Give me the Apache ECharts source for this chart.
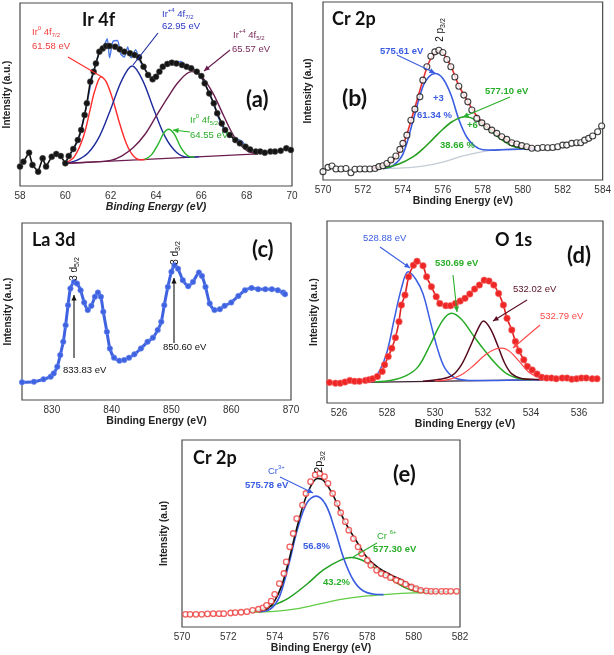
<!DOCTYPE html>
<html><head><meta charset="utf-8">
<script src="https://cdn.jsdelivr.net/npm/echarts@6/dist/echarts.min.js"></script>
<style>html,body{margin:0;padding:0;background:#fff}#c{width:614px;height:655px}</style>
</head><body><div id="c"></div>
<script>
// ---------- Panel (a) Ir 4f ----------
const aTicks = [58,60,62,64,66,68,70];
const aData = [[58.0,10.6],[58.15,13.3],[58.4,18.2],[58.55,11.5],[58.8,7.8],[59.0,15.1],[59.15,10.6],[59.4,16.0],[59.6,17.5],[59.8,16.4],[60.0,12.4],[60.15,16.4],[60.35,20.2],[60.55,25.1],[60.7,30.6],[60.85,38.8],[60.95,45.2],[61.1,57.0],[61.25,62.5],[61.35,67.0],[61.5,73.4],[61.65,75.2],[61.8,76.5],[61.95,76.5],[62.2,76.1],[62.4,74.7],[62.6,73.4],[62.85,72.5],[63.05,71.6],[63.25,70.3],[63.45,65.2],[63.65,60.7],[63.85,58.3],[64.0,59.7],[64.15,62.5],[64.3,65.2],[64.5,66.7],[64.7,67.4],[64.9,67.0],[65.15,66.1],[65.35,65.2],[65.55,64.3],[65.8,62.5],[66.0,60.1],[66.15,56.1],[66.35,50.6],[66.55,45.2],[66.7,39.7],[66.9,34.2],[67.05,30.6],[67.25,27.9],[67.5,25.1],[67.7,23.3],[67.95,21.5],[68.15,20.0],[68.4,18.8],[68.6,18.8],[68.8,18.2],[69.05,18.8],[69.25,18.8],[69.5,19.3],[69.75,20.6],[69.95,19.7]];
const aRaw = [[60.0,12.8],[60.3,19],[60.6,26],[60.9,42],[61.2,60],[61.5,73],[61.75,78],[61.85,80.5],[61.95,70],[62.1,79],[62.3,79.5],[62.45,72],[62.6,70.5],[62.75,76],[62.9,70],[63.1,74.5],[63.3,68],[63.5,64],[63.7,60],[63.9,58],[64.1,61],[64.3,65],[64.5,67.5],[64.7,68.5],[64.9,67.5],[65.1,68],[65.3,66],[65.6,64.5],[65.9,61],[66.2,55],[66.5,46],[66.8,36],[67.0,31],[67.3,27],[67.6,25.5],[67.8,24.5],[68.0,21],[68.3,19],[68.6,18.5],[69.0,18.5],[69.5,19.5],[70.0,20]];
const aIr0a = [[60.0,12.4],[60.4,16],[60.8,27],[61.1,42],[61.3,52],[61.58,59.7],[61.8,57],[62.1,47],[62.4,34],[62.7,23],[63.0,16.5],[63.3,14.3],[63.6,14.6]];
const aIr4a = [[60.0,12.4],[60.5,14],[61.0,18],[61.5,27],[62.0,42],[62.5,58],[62.95,65.6],[63.4,58],[63.9,42],[64.4,27],[64.9,18.5],[65.4,15.8],[65.9,15.9]];
const aIr4b = [[60.0,12.4],[61.0,13],[62.0,14],[62.5,16.5],[63.0,21],[63.5,28],[64.0,38],[64.5,48],[65.0,57],[65.57,62.5],[66.0,60],[66.5,51],[67.0,38],[67.5,26],[68.0,19.5],[68.5,17.5]];
const aIr0b = [[63.5,14.5],[63.8,17],[64.1,23],[64.35,29],[64.55,31],[64.8,28.5],[65.1,21],[65.4,16.5],[65.7,15.7]];
const aBase = [[60.0,12.4],[68.5,17.5]];

// ---------- Panel (b) Cr 2p ----------
const bTicks = [570,572,574,576,578,580,582,584];
const bData = [[570.0,4.7],[570.25,7.1],[570.45,7.9],[570.65,6.2],[570.9,6.2],[571.15,6.5],[571.4,4.1],[571.6,6.0],[571.85,6.2],[572.1,6.2],[572.35,6.2],[572.6,6.5],[572.8,7.5],[573.0,8.0],[573.2,9.3],[573.4,11.2],[573.65,13.5],[573.85,17.2],[574.0,20.6],[574.2,25.2],[574.4,33.6],[574.6,39.8],[574.85,46.7],[575.0,56.1],[575.2,63.6],[575.4,69.5],[575.6,72.0],[575.8,72.9],[576.0,71.6],[576.2,67.7],[576.4,63.6],[576.6,57.9],[576.8,52.7],[577.05,47.7],[577.25,43.9],[577.45,39.3],[577.7,34.6],[577.95,32.1],[578.2,29.9],[578.45,28.0],[578.7,26.2],[578.95,24.3],[579.2,22.8],[579.45,20.9],[579.7,20.2],[579.95,19.3],[580.2,18.7],[580.45,17.8],[580.75,17.8],[581.0,18.3],[581.25,18.1],[581.5,18.3],[581.75,18.7],[582.0,19.6],[582.2,19.6],[582.45,20.6],[582.7,20.9],[582.9,20.9],[583.1,22.4],[583.3,23.4],[583.5,24.7],[583.75,27.1],[583.95,30.3]];
const bEnv = [[572.5,6.6],[573.0,7.8],[573.5,11],[574.0,19.5],[574.5,37],[575.0,56],[575.3,66],[575.6,71.5],[575.8,72.5],[576.0,71.5],[576.4,64],[576.8,53],[577.2,45],[577.6,37.5],[578.0,32],[578.5,28],[579.0,24],[579.5,21],[580.0,19],[580.5,18]];
const bCr3 = [[573.0,6.5],[573.5,8],[574.0,14.5],[574.5,33],[575.0,52.5],[575.3,58],[575.61,59.8],[576.0,57],[576.4,48],[576.8,34],[577.2,24],[577.6,19],[578.0,17],[578.5,16.8],[579.0,17],[580.0,17.4],[580.6,17.6]];
const bCr6 = [[573.0,6.5],[573.8,9],[574.5,13],[575.0,17.5],[575.5,23],[576.0,28.5],[576.5,33],[577.1,35.5],[577.7,33.5],[578.3,28.5],[578.9,23],[579.5,19],[580.2,17.6]];
const bBase = [[573.0,6.5],[574.0,6.8],[575.0,7.8],[576.0,10],[577.0,13.5],[578.0,16],[578.5,16.8],[579.0,17.2],[580.0,17.5],[580.6,17.6]];

// ---------- Panel (c) La 3d ----------
const cTicks = [830,840,850,860,870];
const cData = [[825,10.0],[827,10.3],[828.6,11.7],[829.8,13.2],[830.3,15.0],[830.9,18.8],[831.4,25.4],[831.9,32.9],[832.3,42.3],[832.7,53.6],[833.1,63.0],[833.7,66.7],[834.2,65.8],[834.8,62.0],[835.4,55.1],[836.0,50.8],[836.6,53.2],[837.2,58.3],[837.7,60.7],[838.2,58.3],[838.6,49.8],[839.2,38.5],[839.7,29.1],[840.4,23.9],[841.3,22.2],[842.1,22.6],[842.9,23.9],[843.8,25.8],[844.9,29.1],[846.0,32.9],[846.9,35.2],[847.7,39.5],[848.3,44.2],[848.8,53.6],[849.4,63.9],[850.0,72.4],[850.5,76.1],[851.1,74.2],[851.9,67.7],[852.8,64.3],[853.6,66.7],[854.6,72.0],[855.1,70.1],[855.7,63.9],[856.4,54.5],[857.2,50.8],[858.1,51.3],[858.9,53.2],[860.0,55.1],[861.2,58.8],[862.3,62.0],[863.4,63.3],[864.5,62.6],[865.7,62.6],[866.8,62.6],[867.8,62.0],[868.7,60.7],[869.0,59.8]];

// ---------- Panel (d) O 1s ----------
const dTicks = [526,528,530,532,534,536];
const dData = [[525.6,11.3],[525.85,10.9],[526.05,10.9],[526.25,11.5],[526.45,12.4],[526.65,11.9],[526.85,11.9],[527.1,12.4],[527.25,12.8],[527.4,13.3],[527.6,14.6],[527.8,17.3],[527.9,21.0],[528.05,25.5],[528.2,30.1],[528.35,35.9],[528.5,44.7],[528.6,53.8],[528.75,59.3],[528.9,69.3],[529.1,75.7],[529.25,77.9],[529.5,75.4],[529.65,69.3],[529.85,63.9],[530.05,58.4],[530.2,54.7],[530.45,53.5],[530.65,53.5],[530.85,54.7],[531.05,56.0],[531.25,57.5],[531.45,59.9],[531.65,62.6],[531.85,64.8],[532.05,67.5],[532.25,67.0],[532.45,64.8],[532.65,60.2],[532.85,53.8],[533.0,46.5],[533.2,40.1],[533.35,33.8],[533.5,28.6],[533.7,23.7],[533.85,20.1],[534.05,18.2],[534.25,15.9],[534.45,14.1],[534.65,13.7],[534.85,13.7],[535.05,13.3],[535.3,13.7],[535.5,13.7],[535.7,13.1],[535.9,13.3],[536.1,13.7],[536.3,13.7],[536.55,13.3],[536.75,13.3]];
const dOa = [[527.0,11.5],[527.4,13],[527.7,18],[528.0,28],[528.3,46],[528.6,63],[528.88,72.1],[529.2,68],[529.5,60],[529.8,45],[530.1,30],[530.4,19.5],[530.8,14],[531.3,12.5],[532.0,12.3],[533.0,12.5],[534.5,12.8]];
const dOb = [[527.5,11.6],[528.2,12.5],[528.8,15],[529.3,20],[529.8,32],[530.3,45],[530.69,49.3],[531.1,46],[531.6,37],[532.0,30],[532.5,22],[533.0,16],[533.5,13.5],[534.0,12.8]];
const dOc = [[529.5,12],[530.2,13],[530.7,15],[531.1,21],[531.5,32],[531.8,41],[532.02,45.1],[532.3,41],[532.6,32],[532.9,22],[533.2,16],[533.6,13.5],[534.2,12.9],[534.5,12.8]];
const dOd = [[530.0,12.2],[530.6,13],[531.1,15.5],[531.6,20.5],[532.1,26.5],[532.5,29.5],[532.79,30.1],[533.1,28.5],[533.5,23],[533.9,17],[534.3,14.2],[534.8,13]];
const dBase = [[527.0,11.3],[534.6,12.8]];

// ---------- Panel (e) Cr 2p ----------
const eTicks = [570,572,574,576,578,580,582];
const eData = [[570.15,6.8],[570.35,6.8],[570.6,6.8],[570.85,6.8],[571.1,7.0],[571.35,7.1],[571.6,7.1],[571.8,7.1],[572.1,7.5],[572.3,7.7],[572.55,7.9],[572.8,8.2],[573.05,8.9],[573.3,9.5],[573.5,10.2],[573.65,11.6],[573.85,13.8],[574.0,17.5],[574.2,23.2],[574.4,28.6],[574.5,34.8],[574.65,42.9],[574.8,50.0],[574.95,58.0],[575.2,65.2],[575.35,71.4],[575.55,77.7],[575.75,81.3],[575.95,82.1],[576.15,80.4],[576.3,76.8],[576.5,71.4],[576.7,66.1],[576.85,61.1],[577.05,56.3],[577.2,51.8],[577.4,47.3],[577.6,42.9],[577.75,39.3],[578.0,35.7],[578.15,33.0],[578.4,30.4],[578.6,28.6],[578.8,27.7],[579.0,26.4],[579.25,25.0],[579.45,24.1],[579.65,22.9],[579.9,21.4],[580.1,20.5],[580.3,19.6],[580.55,19.3],[580.75,19.1],[580.95,19.1],[581.2,19.1],[581.4,19.1],[581.6,19.1],[581.85,19.1]];
const eEnv = [[573.3,8.5],[573.7,9.8],[574.0,14],[574.3,22],[574.6,35],[575.0,55],[575.4,71],[575.85,79.5],[576.1,78.5],[576.5,71],[577.0,57],[577.5,46.5],[578.0,37],[578.5,31.5],[579.0,28],[579.5,25],[580.0,21.5],[580.5,19.5],[581.0,19],[581.5,19]];
const eCr3 = [[573.3,8.2],[573.8,9.5],[574.2,16],[574.6,33],[575.0,53],[575.4,66.5],[575.78,70],[576.2,65.5],[576.6,52],[577.0,36],[577.4,25],[577.8,19.5],[578.3,17.5],[578.7,17.3]];
const eCr6 = [[573.0,8],[573.9,11.5],[574.6,15.5],[575.4,23],[576.1,30.5],[576.8,35.5],[577.3,37.1],[577.9,35],[578.5,30],[579.1,25],[579.6,21.2],[580.1,19],[580.8,18.4]];
const eBase = [[573.0,8],[574.0,8.4],[575.0,9.8],[576.0,12.5],[577.0,15],[578.0,16.6],[579.0,17.6],[580.0,18.2],[581.0,18.5],[582.0,18.6]];

const FONT = 'Liberation Sans, Arial, sans-serif';
const TFONT = 'Lato, "Open Sans", sans-serif';

const grids = [
  {left:20, top:3, width:272, height:183},
  {left:323, top:2, width:281, height:178},
  {left:22, top:223, width:269, height:177},
  {left:327, top:221, width:276, height:182},
  {left:182, top:440, width:278, height:187}
].map(g => Object.assign(g, {show:true, borderColor:'#4a4a4a', borderWidth:1.2, backgroundColor:'transparent'}));

function xa(i, min, max, ticks, italic) {
  return {type:'value', gridIndex:i, min, max,
    axisLine:{show:false}, axisTick:{show:false}, splitLine:{show:false},
    axisLabel:{customValues:ticks, color:'#333', fontSize:10, fontFamily:FONT, margin:5},
    name:'Binding Energy (eV)', nameLocation:'middle', nameGap:16,
    nameTextStyle:{fontSize:10.5, fontWeight:'bold', fontStyle: italic?'italic':'normal', color:'#222', fontFamily:FONT}};
}
function ya(i, name, gap) {
  return {type:'value', gridIndex:i, min:0, max:100,
    axisLine:{show:false}, axisTick:{show:false}, splitLine:{show:false}, axisLabel:{show:false},
    name, nameLocation:'middle', nameGap:gap, nameRotate:90,
    nameTextStyle:{fontSize:10, fontWeight:'bold', color:'#222', fontFamily:FONT}};
}
function ln(i, data, color, width, extra) {
  return Object.assign({type:'line', xAxisIndex:i, yAxisIndex:i, data, smooth:0.35, symbol:'none',
    lineStyle:{color, width}, z:2, silent:true}, extra||{});
}

const series = [
  // (a)
  ln(0, aBase, '#6a1d4e', 1.3, {smooth:false}),
  ln(0, aIr0a, '#ff2a2a', 1.4),
  ln(0, aIr4a, '#1c2a9c', 1.4),
  ln(0, aIr4b, '#6a1d4e', 1.4),
  ln(0, aIr0b, '#27b427', 1.4),
  ln(0, aRaw, '#4a78e6', 1.4, {smooth:0.2}),
  {type:'line', xAxisIndex:0, yAxisIndex:0, data:aData, symbol:'circle', symbolSize:6,
    itemStyle:{color:'#151515', borderColor:'#555', borderWidth:0.5}, lineStyle:{color:'#111', width:1.6}, z:5, silent:true},
  // (b)
  ln(1, bBase, '#c4ccd6', 1.3),
  ln(1, bCr3, '#3a5de2', 1.6),
  ln(1, bCr6, '#2a9e22', 1.6),
  ln(1, bEnv, '#e83232', 1.6),
  {type:'scatter', xAxisIndex:1, yAxisIndex:1, data:bData, symbol:'circle', symbolSize:6,
    itemStyle:{color:'#fff', borderColor:'#111', borderWidth:1.1}, z:5, silent:true},
  // (c)
  {type:'line', xAxisIndex:2, yAxisIndex:2, data:cData, symbol:'circle', symbolSize:5.5, smooth:0.2,
    itemStyle:{color:'#3f62e0', borderColor:'#6d8cf0', borderWidth:0.6}, lineStyle:{color:'#3f62e0', width:3}, z:5, silent:true},
  // (d)
  ln(3, dBase, '#3a2030', 1.2, {smooth:false}),
  ln(3, dOa, '#3a5de2', 1.5),
  ln(3, dOb, '#24aa24', 1.5),
  ln(3, dOc, '#55091c', 1.5),
  ln(3, dOd, '#ff4848', 1.2),
  {type:'line', xAxisIndex:3, yAxisIndex:3, data:dData, symbol:'circle', symbolSize:6.5, smooth:0.2,
    itemStyle:{color:'#ee2626', borderColor:'#f57070', borderWidth:0.6}, lineStyle:{color:'#e02020', width:1.6}, z:5, silent:true},
  // (e)
  ln(4, eBase, '#5fcc44', 1.2),
  ln(4, eCr6, '#22a022', 1.5),
  ln(4, eCr3, '#3a5de2', 1.6),
  ln(4, eEnv, '#111', 1.6),
  {type:'scatter', xAxisIndex:4, yAxisIndex:4, data:eData, symbol:'circle', symbolSize:5.5,
    itemStyle:{color:'#fff', borderColor:'#ee3838', borderWidth:1.3}, z:5, silent:true}
];

function rich(color, size, bold, fam) {
  const base = {fill:color, color, fontFamily:fam||FONT, fontWeight:bold?'bold':'normal'};
  return {
    sup: Object.assign({fontSize:Math.round(size*0.65), verticalAlign:'top', lineHeight:size+4}, base),
    sub: Object.assign({fontSize:Math.round(size*0.65), verticalAlign:'bottom', lineHeight:size+4}, base)
  };
}
function T(x, y, text, color, size, bold, opts) {
  opts = opts || {};
  const fam = opts.fam || FONT;
  const align = opts.align || 'left';
  return {type:'text', x, y, rotation: opts.rot || 0, z:100, silent:true,
    style:{text, fill:color, fontSize:size, fontWeight:bold?'bold':'normal', fontFamily:fam,
      align, textAlign:align, verticalAlign:'middle', textVerticalAlign:'middle', lineHeight:size+4,
      rich: rich(color, size, bold, fam)}};
}
function A(x1, y1, x2, y2, color, head) {
  const els = [{type:'line', z:90, silent:true, shape:{x1, y1, x2, y2}, style:{stroke:color, lineWidth:1.1}}];
  if (head) {
    const ang = Math.atan2(y2-y1, x2-x1), L = 5.5, W = 2.6;
    const bx = x2 - L*Math.cos(ang), by = y2 - L*Math.sin(ang);
    const px = -Math.sin(ang)*W, py = Math.cos(ang)*W;
    els.push({type:'polygon', z:90, silent:true, shape:{points:[[x2,y2],[bx+px,by+py],[bx-px,by-py]]}, style:{fill:color}});
  }
  return els;
}

const red='#f03c3c', navy='#2a36c6', purp='#7a2a5c', grn='#2aae2a', blu='#3a5de2', mar='#5a0f22';
const g = [
  // (a)
  T(82, 20, 'Ir 4f', '#111', 18, true, {fam:TFONT}),
  T(246, 100, '(a)', '#111', 22, true, {fam:TFONT}),
  T(32, 32, 'Ir{sup|0} 4f{sub|7/2}', red, 9.5, false),
  T(32, 46, '61.58 eV', red, 9.5, false),
  T(162, 14, 'Ir{sup|+4} 4f{sub|7/2}', navy, 9.5, false),
  T(162, 26, '62.95 eV', navy, 9.5, false),
  T(233, 35, 'Ir{sup|+4} 4f{sub|5/2}', purp, 9.5, false),
  T(232, 49, '65.57 eV', purp, 9.5, false),
  T(190, 120, 'Ir{sup|0} 4f{sub|5/2}', grn, 9.5, false),
  T(190, 135, '64.55 eV', grn, 9.5, false),
  ...A(68, 57, 102, 77, '#ff2a2a', false),
  ...A(158, 33, 133, 65, '#1c2a9c', false),
  ...A(230, 50, 204, 71, '#6a1d4e', true),
  ...A(190, 132, 173, 130, '#27b427', true),
  // (b)
  T(332, 19, 'Cr 2p', '#111', 18, true, {fam:TFONT}),
  T(342, 99, '(b)', '#111', 23, true, {fam:TFONT}),
  T(440, 30, '2 p{sub|3/2}', '#111', 10, false, {rot:Math.PI/2, align:'center'}),
  T(380, 51, '575.61 eV', blu, 9.5, true),
  ...A(397, 55, 435, 73, blu, true),
  T(433, 98, '+3', blu, 9.5, true),
  T(417, 115, '61.34 %', blu, 9.5, true),
  T(485, 91, '577.10 eV', grn, 9.5, true),
  ...A(510, 97, 463, 117, grn, true),
  T(467, 125, '+6', grn, 9.5, true),
  T(440, 145, '38.66 %', grn, 9.5, true),
  // (c)
  T(32, 240, 'La 3d', '#111', 18, true, {fam:TFONT}),
  T(252, 250, '(c)', '#111', 22, true, {fam:TFONT}),
  T(74, 269, '3 d{sub|5/2}', '#111', 10, false, {rot:Math.PI/2, align:'center'}),
  ...A(74, 358, 74, 295, '#111', true),
  T(63, 370, '833.83 eV', '#111', 9.5, false),
  T(175, 253, '3 d{sub|3/2}', '#111', 10, false, {rot:Math.PI/2, align:'center'}),
  ...A(174, 343, 174, 278, '#111', true),
  T(163, 347, '850.60 eV', '#111', 9.5, false),
  // (d)
  T(495, 240, 'O 1s', '#111', 18, true, {fam:TFONT}),
  T(567, 256, '(d)', '#111', 22, true, {fam:TFONT}),
  T(363, 238, '528.88 eV', blu, 9.5, false),
  ...A(380, 247, 410, 268, blu, true),
  T(435, 263, '530.69 eV', grn, 9.5, true),
  ...A(453, 275, 457, 312, grn, true),
  T(513, 289, '532.02 eV', mar, 9.5, false),
  ...A(527, 300, 493, 321, mar, true),
  T(540, 316, '532.79 eV', '#ff4848', 9.5, false),
  ...A(540, 325, 513, 348, '#ff4848', true),
  // (e)
  T(193, 458, 'Cr 2p', '#111', 18, true, {fam:TFONT}),
  T(393, 475, '(e)', '#111', 22, true, {fam:TFONT}),
  T(319, 462, '2p{sub|3/2}', '#111', 11, false, {rot:Math.PI/2, align:'center'}),
  T(268, 471, 'Cr{sup|3+}', blu, 9.5, false),
  T(245, 485, '575.78 eV', blu, 9.5, true),
  ...A(280, 477, 313, 493, blu, true),
  T(303, 546, '56.8%', blu, 9.5, true),
  T(377, 536, 'Cr {sup|6+}', grn, 9.5, false),
  T(373, 549, '577.30 eV', grn, 9.5, true),
  ...A(377, 543, 353, 557, grn, false),
  T(323, 582, '43.2%', grn, 9.5, true)
];

const chart = echarts.init(document.getElementById('c'), null, {renderer:'canvas'});
chart.setOption({
  animation:false,
  backgroundColor:'#fff',
  grid: grids,
  xAxis: [xa(0,58,70,aTicks,true), xa(1,570,584,bTicks), xa(2,825,870,cTicks), xa(3,525.5,537,dTicks), xa(4,570,582,eTicks)],
  yAxis: [ya(0,'Intensity (a.u.)',8), ya(1,'Intensity (a.u)',10), ya(2,'Intensity (a.u.)',9), ya(3,'Intensity (a.u.)',8), ya(4,'Intensity (a.u)',13)],
  series,
  graphic: g
});
</script></body></html>
